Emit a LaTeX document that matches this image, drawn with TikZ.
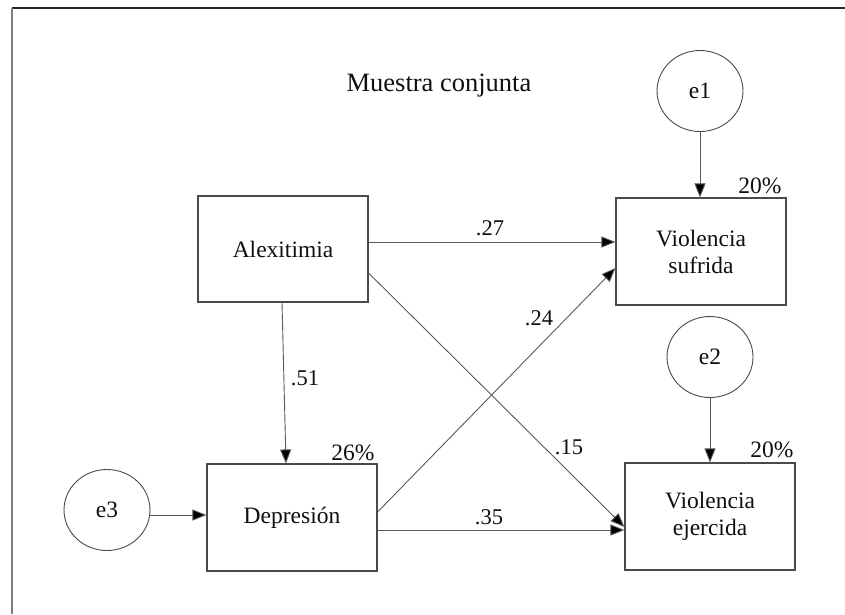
\documentclass[tikz,border=0pt]{standalone}
\usepackage{fontspec}
\setmainfont{Liberation Serif}
\newfontfamily\diagserif{Liberation Serif}
\usetikzlibrary{arrows.meta,calc,shapes.geometric}
\definecolor{boxline}{HTML}{4A4A4A}
\definecolor{conn}{HTML}{5A5A5A}
\definecolor{txt}{HTML}{101010}
\tikzset{
  every node/.style={font=\diagserif},
  varbox/.style={draw=boxline, line width=1.1pt, minimum width=170pt, minimum height=106pt, inner sep=0pt, align=center, font=\diagserif\fontsize{23.5}{27}\selectfont, text=txt},
  errc/.style={draw=boxline, line width=0.9pt, ellipse, minimum width=86pt, minimum height=81pt, inner sep=0pt, font=\diagserif\fontsize{23.5}{27}\selectfont, text=txt},
  path/.style={draw=conn, line width=0.9pt, -{Triangle[length=14pt,width=11pt,fill=black]}},
  coef/.style={inner sep=0pt, font=\diagserif\fontsize{22.5}{26}\selectfont, text=txt},
  rsq/.style={inner sep=0pt, font=\diagserif\fontsize{23.5}{27}\selectfont, text=txt}
}
\begin{document}
\begin{tikzpicture}[x=1pt,y=-1pt]
\useasboundingbox (0,0) rectangle (845,614);
\fill[white] (0,0) rectangle (845,614);
% frame
\draw[draw=black!85, line width=1.6pt] (12,8) -- (845,8);
\draw[draw=black!50, line width=1.6pt] (12,8) -- (12,614);
% title
\node[inner sep=0pt, font=\diagserif\fontsize{26.5}{30}\selectfont, text=txt] (title) at (439,86) {Muestra conjunta};
% boxes
\node[varbox] (alex) at (283,249) {Alexitimia};
\node[varbox, minimum height=107pt] (suf) at (701,251.5) {Violencia\\sufrida};
\node[varbox, minimum height=107pt] (ejer) at (710,516.5) {Violencia\\ejercida};
\node[varbox, minimum height=107pt] (dep) at (292,517.5) {Depresión};
% error terms
\node[errc] (e1) at (700,91) {e1};
\node[errc] (e2) at (710,357) {e2};
\node[errc] (e3) at (107,510) {e3};
% paths
\draw[path] (e1.south) -- (e1.south |- suf.north);
\draw[path] (e2.south) -- (e2.south |- ejer.north);
\draw[path] ([yshift=-5pt]e3.east) -- ([yshift=-5pt]e3.east -| dep.west);
\draw[path] ([xshift=-1pt]alex.south) -- ([xshift=-6pt]dep.north);
\draw[path] ([yshift=7pt]alex.east) -- ([yshift=7pt]alex.east -| suf.west);
\draw[path] ([yshift=-24pt]alex.east) -- ([yshift=-10.5pt]ejer.west);
\draw[path] ([yshift=5.5pt]dep.east) -- ([yshift=-16.5pt]suf.west);
\draw[path] ([yshift=-12.5pt]dep.east) -- ([yshift=-12.5pt]dep.east -| ejer.west);
% coefficients
\node[coef] (c27) at (490,228) {.27};
\node[coef] (c24) at (539,318) {.24};
\node[coef] (c51) at (305,378) {.51};
\node[coef] (c15) at (569,447) {.15};
\node[coef] (c35) at (489,517) {.35};
% R squared
\node[rsq] (r1) at (760,186) {20\%};
\node[rsq] (r2) at (772,450) {20\%};
\node[rsq] (r3) at (353,453) {26\%};
\end{tikzpicture}
\end{document}
